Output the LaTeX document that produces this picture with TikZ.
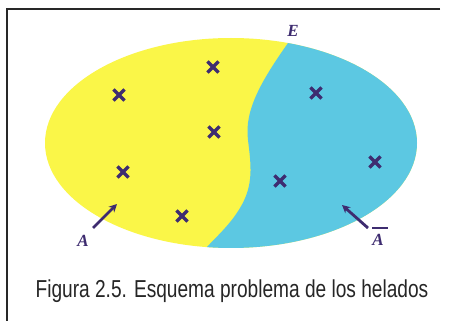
\documentclass[tikz,border=0pt]{standalone}
\usepackage{fontspec}
\setmainfont{Liberation Serif}
\newfontfamily\capfont{Liberation Sans}
\usetikzlibrary{shapes.misc,arrows.meta}
\definecolor{yel}{RGB}{250,246,72}
\definecolor{cya}{RGB}{92,200,226}
\definecolor{pur}{RGB}{62,44,112}
\definecolor{frame}{RGB}{40,40,40}
\tikzset{
  xmark/.style={cross out,draw=pur,minimum size=8pt,inner sep=0pt,line width=3.2pt},
  lab/.style={text=pur,font=\itshape\bfseries\fontsize{17}{17}\selectfont,inner sep=0pt},
  pointer/.style={draw=pur,line width=2.8pt,-{Stealth[length=8pt,width=8pt]}}
}
\begin{document}
\begin{tikzpicture}[x=1pt,y=-1pt]
\useasboundingbox (0,0) rectangle (451,321);
\fill[white] (0,0) rectangle (451,321);
% frame
\draw[frame,line width=1.6pt] (440,9) -- (7,9) -- (7,321);
% ellipse
\fill[yel] (231,143) ellipse [x radius=186, y radius=105];
\begin{scope}
\clip (231,143) ellipse [x radius=186, y radius=105];
\fill[cya] (288,43) .. controls (262,80) and (244,110) .. (248,140)
  .. controls (251,165) and (254,185) .. (240,208)
  .. controls (230,225) and (215,238) .. (207,247)
  -- (460,300) -- (460,0) -- cycle;
\end{scope}
% crosses
\node[xmark] (x1) at (213,67) {};
\node[xmark] (x2) at (119,95) {};
\node[xmark] (x3) at (214,132) {};
\node[xmark] (x4) at (123,172) {};
\node[xmark] (x5) at (182,216) {};
\node[xmark] (x6) at (316,93) {};
\node[xmark] (x7) at (375,162) {};
\node[xmark] (x8) at (280,181) {};
% labels
\node[lab] (E) at (293,31) {E};
\node[lab] (A) at (83,241) {A};
\node[lab] (Ab) at (378,240) {A};
\draw[pur,line width=1.6pt] (372,228) -- (388,228);
\coordinate (atail) at (93,228);
\coordinate (ahead) at (117,204);
\coordinate (btail) at (368,228);
\coordinate (bhead) at (342,205);
\draw[pointer] (atail) -- (ahead);
\draw[pointer] (btail) -- (bhead);
% caption
\node[inner sep=0pt,anchor=base,text=black!85] (cap) at (232,298) {\capfont\fontsize{24.5}{24.5}\selectfont\scalebox{0.78}[1]{Figura 2.5. Esquema problema de los helados}};
\end{tikzpicture}
\end{document}
